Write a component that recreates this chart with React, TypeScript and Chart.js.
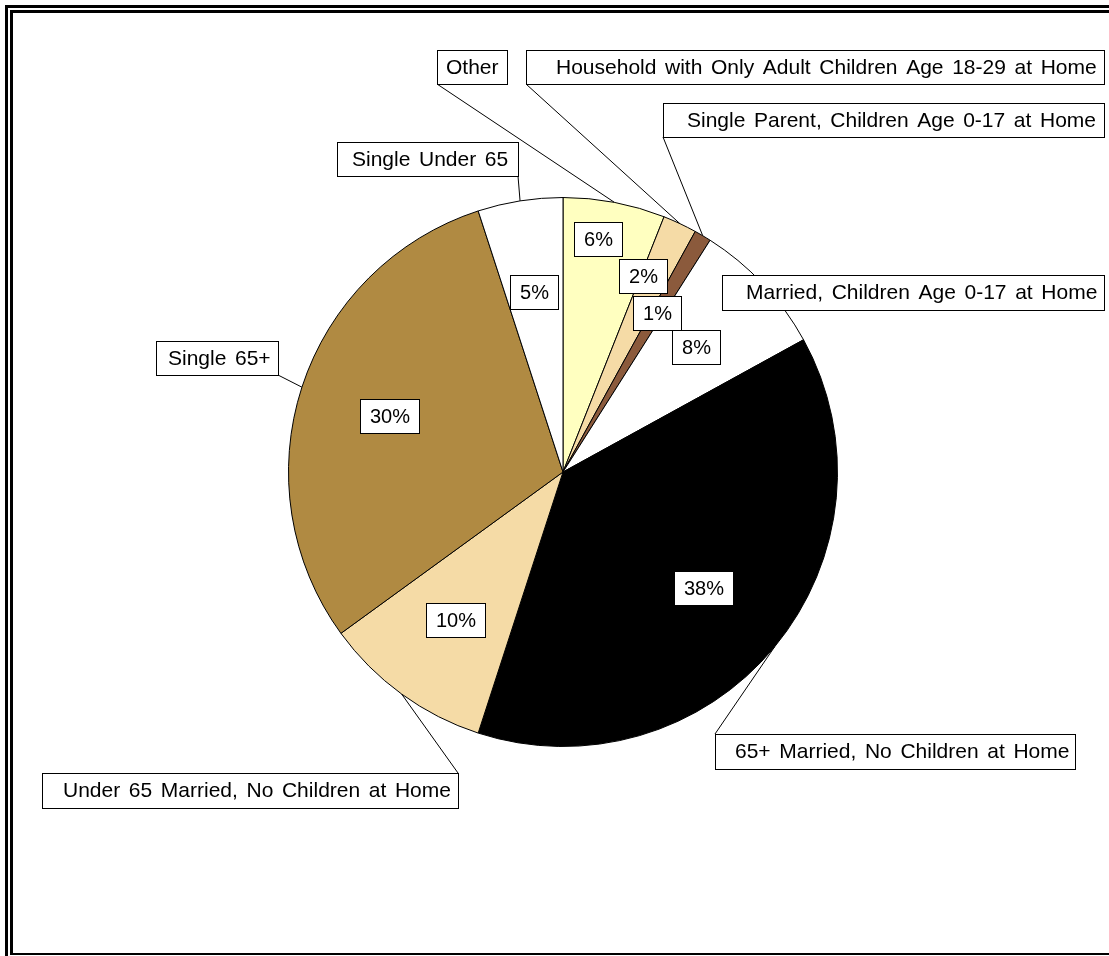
import React, { useEffect, useRef } from "react";
import { Chart, registerables } from "chart.js";

Chart.register(...registerables);

const categories = [
  "Other",
  "Household with Only Adult Children Age 18-29 at Home",
  "Single Parent, Children Age 0-17 at Home",
  "Married, Children Age 0-17 at Home",
  "65+ Married, No Children at Home",
  "Under 65 Married, No Children at Home",
  "Single 65+",
  "Single Under 65",
];
const values = [6, 2, 1, 8, 38, 10, 30, 5];
const sliceColors = [
  "#FFFFC0",
  "#F5DBA6",
  "#8B5A3C",
  "#FFFFFF",
  "#000000",
  "#F5DBA6",
  "#B08A42",
  "#FFFFFF",
];

// Layout of category label boxes (x, y, w, h, text x, leader anchor fractions)
const labelBoxes = [
  { x: 437, y: 50, w: 70, h: 34, tx: 446, ax: 0, ay: 1 },
  { x: 526, y: 50, w: 578, h: 34, tx: 556, ax: 0, ay: 1 },
  { x: 663, y: 103, w: 441, h: 34, tx: 687, ax: 0, ay: 1 },
  { x: 722, y: 275, w: 382, h: 35, tx: 746, ax: 0, ay: 1 },
  { x: 715, y: 734, w: 360, h: 35, tx: 735, ax: 0, ay: 0 },
  { x: 42, y: 773, w: 416, h: 35, tx: 63, ax: 1, ay: 0 },
  { x: 156, y: 341, w: 122, h: 34, tx: 168, ax: 1, ay: 1 },
  { x: 337, y: 142, w: 181, h: 34, tx: 352, ax: 1, ay: 1 },
];
// Percent label placement (fraction of radius, angular shift in degrees)
const pctRadial = [0.857, 0.77, 0.672, 0.665, 0.665, 0.665, 0.665, 0.665];
const pctShift = [-2.3, -3, 0, 0, 0, 0, 0, 0];

const FONT = '21px "Liberation Sans", Arial, Helvetica, sans-serif';
const PCT_FONT = '20px "Liberation Sans", Arial, Helvetica, sans-serif';
const EXTRA_WORD_SPACE = 2.8;

function drawSpacedText(ctx: CanvasRenderingContext2D, text: string, x: number, y: number) {
  const words = text.split(" ");
  const sp = ctx.measureText(" ").width + EXTRA_WORD_SPACE;
  let cx = x;
  words.forEach((w) => {
    ctx.fillText(w, cx, y);
    cx += ctx.measureText(w).width + sp;
  });
}

const overlayPlugin = {
  id: "overlay",
  afterDatasetsDraw(chart: any) {
    const ctx = chart.ctx as CanvasRenderingContext2D;
    const meta = chart.getDatasetMeta(0);
    const total = values.reduce((a, b) => a + b, 0);
    ctx.save();
    ctx.textBaseline = "middle";
    // leader lines
    ctx.strokeStyle = "#000";
    ctx.lineWidth = 1;
    meta.data.forEach((arc: any, i: number) => {
      const p = arc.getProps(["x", "y", "startAngle", "endAngle", "outerRadius"], true);
      const mid = (p.startAngle + p.endAngle) / 2;
      const sx = p.x + p.outerRadius * Math.cos(mid);
      const sy = p.y + p.outerRadius * Math.sin(mid);
      const b = labelBoxes[i];
      const ex = b.x + b.w * b.ax;
      const ey = b.y + b.h * b.ay;
      ctx.beginPath();
      ctx.moveTo(sx, sy);
      ctx.lineTo(ex, ey);
      ctx.stroke();
    });
    // category boxes
    ctx.font = FONT;
    categories.forEach((c, i) => {
      const b = labelBoxes[i];
      ctx.fillStyle = "#fff";
      ctx.fillRect(b.x, b.y, b.w, b.h);
      ctx.strokeRect(b.x + 0.5, b.y + 0.5, b.w, b.h);
      ctx.fillStyle = "#000";
      ctx.textAlign = "left";
      drawSpacedText(ctx, c, b.tx, b.y + b.h / 2 + 1);
    });
    // percent boxes
    ctx.font = PCT_FONT;
    meta.data.forEach((arc: any, i: number) => {
      const p = arc.getProps(["x", "y", "startAngle", "endAngle", "outerRadius"], true);
      const mid = (p.startAngle + p.endAngle) / 2 + (pctShift[i] * Math.PI) / 180;
      const cx = p.x + p.outerRadius * pctRadial[i] * Math.cos(mid);
      const cy = p.y + p.outerRadius * pctRadial[i] * Math.sin(mid);
      const txt = Math.round((values[i] / total) * 100) + "%";
      const tw = ctx.measureText(txt).width;
      const w = Math.round(tw + 19);
      const h = 34;
      const bx = Math.round(cx - w / 2);
      const by = Math.round(cy - h / 2);
      ctx.fillStyle = "#fff";
      ctx.fillRect(bx, by, w, h);
      ctx.strokeRect(bx + 0.5, by + 0.5, w, h);
      ctx.fillStyle = "#000";
      ctx.textAlign = "center";
      ctx.fillText(txt, bx + w / 2 + 0.5, by + h / 2 + 1);
    });
    // frame
    ctx.fillStyle = "#000";
    ctx.fillRect(5, 5, 3, 951);
    ctx.fillRect(5, 5, 1104, 3);
    ctx.fillRect(10, 10, 3, 945);
    ctx.fillRect(10, 10, 1099, 3);
    ctx.fillRect(10, 953, 1099, 2);
    ctx.restore();
  },
};

export default function App() {
  const ref = useRef<HTMLCanvasElement>(null);
  useEffect(() => {
    if (!ref.current) return;
    const chart = new Chart(ref.current, {
      type: "pie",
      data: {
        labels: categories,
        datasets: [
          {
            data: values,
            backgroundColor: sliceColors,
            borderColor: "#000",
            borderWidth: 1,
          },
        ],
      },
      options: {
        responsive: false,
        animation: false,
        devicePixelRatio: 1,
        layout: { padding: { left: 288, right: 271, top: 197, bottom: 209 } },
        plugins: {
          legend: { display: false },
          tooltip: { enabled: false },
        },
      },
      plugins: [overlayPlugin],
    });
    return () => chart.destroy();
  }, []);
  return (
    <div style={{ position: "fixed", left: 0, top: 0, width: 1109, height: 956, background: "#fff" }}>
      <canvas ref={ref} width={1109} height={956} />
    </div>
  );
}
